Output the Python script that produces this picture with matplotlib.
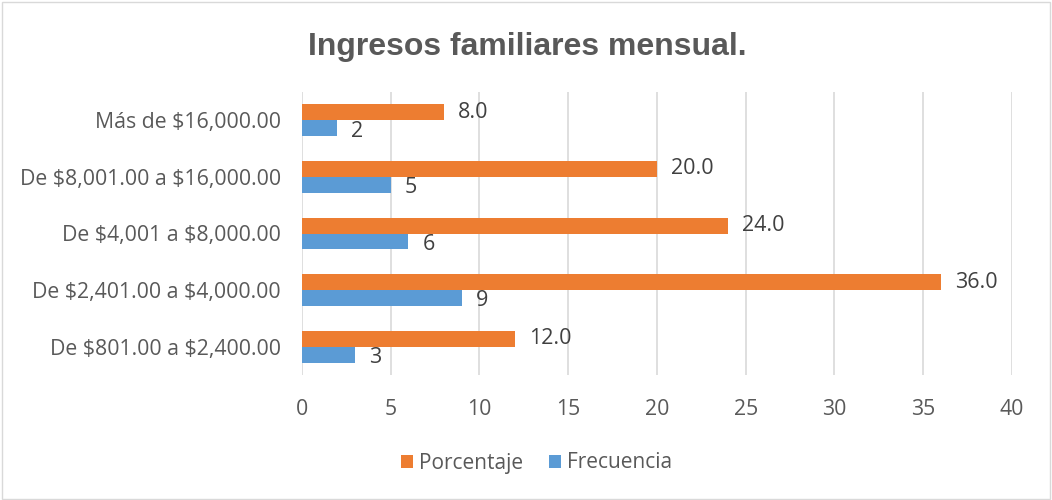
import matplotlib.pyplot as plt
from matplotlib.patches import Rectangle
import numpy as np

# Datos
categorias = ['De $801.00 a $2,400.00', 'De $2,401.00 a $4,000.00',
              'De $4,001 a $8,000.00', 'De $8,001.00 a $16,000.00',
              'Más de $16,000.00']
frecuencia = [3, 9, 6, 5, 2]
porcentaje = [12.0, 36.0, 24.0, 20.0, 8.0]

naranja = '#ED7D31'
azul = '#5B9BD5'
gris_texto = '#595959'

plt.rcParams['font.family'] = ['Open Sans', 'DejaVu Sans']
plt.rcParams['text.parse_math'] = False  # los $ son texto normal

fig = plt.figure(figsize=(10.52, 5), dpi=100)
ax = fig.add_axes([0.287, 0.25, 0.675, 0.566])

y = np.arange(len(categorias))
alto = 0.28
b1 = ax.barh(y + alto / 2, porcentaje, height=alto, color=naranja, label='Porcentaje', zorder=3)
b2 = ax.barh(y - alto / 2, frecuencia, height=alto, color=azul, label='Frecuencia', zorder=3)

for barra, v in zip(b1, porcentaje):
    ax.annotate(f'{v:.1f}', (v, barra.get_y() + barra.get_height() / 2),
                xytext=(10, 0), textcoords='offset points', va='center',
                fontsize=15.5, color='#404040')
for barra, v in zip(b2, frecuencia):
    ax.annotate(f'{v}', (v, barra.get_y() + barra.get_height() / 2),
                xytext=(10, -2), textcoords='offset points', va='center',
                fontsize=15.5, color='#404040')

ax.set_xlim(0, 40)
ax.set_ylim(-0.5, 4.5)
ax.set_xticks(range(0, 41, 5))
ax.set_yticks(y)
ax.set_yticklabels(categorias)
ax.tick_params(axis='both', length=0, labelsize=15.3, labelcolor=gris_texto)
ax.tick_params(axis='x', pad=17)
ax.tick_params(axis='y', pad=15)
ax.grid(axis='x', color='#D9D9D9', linewidth=1.2, zorder=0)
for s in ax.spines.values():
    s.set_visible(False)

fig.suptitle('Ingresos familiares mensual.', x=0.501, y=0.935, fontsize=23,
             fontweight='bold', color=gris_texto, family='Liberation Sans')

handles, labels = ax.get_legend_handles_labels()
fig.legend(handles, labels, loc='center', bbox_to_anchor=(0.51, 0.074), ncol=2,
           frameon=False, fontsize=15, labelcolor=gris_texto,
           handlelength=0.6, handleheight=0.6, handletextpad=0.3, columnspacing=1.2)

fig.patches.append(Rectangle((0.002, 0.003), 0.996, 0.994, transform=fig.transFigure,
                             fill=False, edgecolor='#D9D9D9', linewidth=1))

fig.savefig('out.png', dpi=100)
